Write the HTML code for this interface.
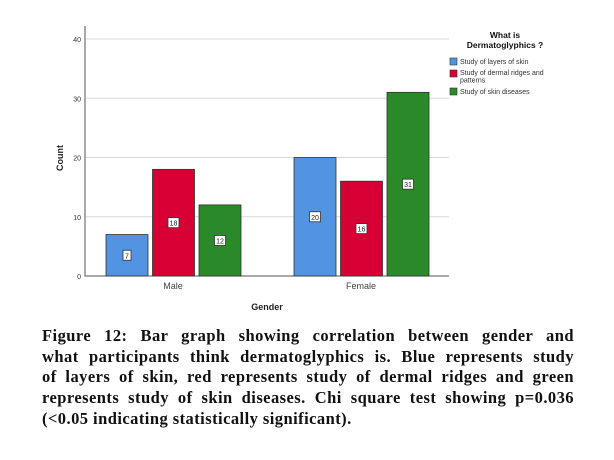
<!DOCTYPE html>
<html><head><meta charset="utf-8"><style>
body{margin:0;width:614px;height:460px;background:#fff;overflow:hidden;position:relative}
svg{position:absolute;left:0;top:0}
#cap{position:absolute;left:42px;top:326px;width:532px;font-family:"Liberation Serif",serif;font-weight:bold;font-size:16.5px;letter-spacing:0.45px;line-height:20.7px;color:#111}
#cap div{text-align:justify;text-align-last:justify;white-space:nowrap}
#cap div.last{text-align-last:left}
</style></head><body>
<svg id="chart" width="614" height="330"></svg>
<div id="cap">
<div>Figure 12: Bar graph showing correlation between gender and</div>
<div>what participants think dermatoglyphics is. Blue represents study</div>
<div>of layers of skin, red represents study of dermal ridges and green</div>
<div>represents study of skin diseases. Chi square test showing p=0.036</div>
<div class="last">(&lt;0.05 indicating statistically significant).</div>
</div>
<script>
const categories=["Male","Female"];
const seriesNames=["Study of layers of skin","Study of dermal ridges and patterns","Study of skin diseases"];
const layers=[7,20];
const ridges=[18,16];
const diseases=[12,31];
const yTicks=[0,10,20,30,40];
const colors=["#5294e2","#d70034","#2a8a2a"];
const NS="http://www.w3.org/2000/svg";
const svg=document.getElementById("chart");
const x0=85,x1=449,yb=276,yt=39;
const y=v=>yb-(v/40)*(yb-yt);
const catX=i=>173+i*188;
function el(t,a,txt){const e=document.createElementNS(NS,t);for(const k in a)e.setAttribute(k,a[k]);if(txt!==undefined)e.textContent=txt;svg.appendChild(e);return e;}
yTicks.forEach(t=>{
 if(t>0){const g=el("line",{x1:x0,x2:x1,y1:y(t),y2:y(t),stroke:"#d9d9d9","stroke-width":1});
 
 }
 const l=el("text",{x:x0-4,y:y(t)+3,"font-size":"7","font-family":"Liberation Sans,sans-serif","text-anchor":"end",fill:"#333"},t);
 
 
});
const ax=el("path",{d:`M${x0},${yt-13}V${yb}H${x1}`,stroke:"#555",fill:"none","stroke-width":1});


const series=[layers,ridges,diseases];
const bw=42,step=46.5;
series.forEach((s,si)=>{
 s.forEach((v,ci)=>{
  const bx=catX(ci)-67+si*step;
  const r=el("rect",{x:bx,y:y(v),width:bw,height:yb-y(v),fill:colors[si],stroke:"#333","stroke-width":0.8});
  
  
  const my=y(v/2);
  const w=String(v).length>1?11:8;
  const b=el("rect",{x:bx+bw/2-w/2,y:my-5,width:w,height:10,fill:"#fff",stroke:"#333","stroke-width":0.8});
  
  
  const t=el("text",{x:bx+bw/2,y:my+3,"font-size":"7","font-family":"Liberation Sans,sans-serif","text-anchor":"middle",fill:"#222"},v);
  
  
 });
});
categories.forEach((c,i)=>{
 const t=el("text",{x:catX(i),y:289,"font-size":"9","font-family":"Liberation Sans,sans-serif","text-anchor":"middle",fill:"#444"},c);
 
 
});
const xt=el("text",{x:267,y:310,"font-size":"9","font-weight":"bold","font-family":"Liberation Sans,sans-serif","text-anchor":"middle",fill:"#222"},"Gender");


const yl=el("text",{x:0,y:0,"font-size":"9","font-weight":"bold","font-family":"Liberation Sans,sans-serif","text-anchor":"middle",fill:"#222",transform:"translate(63,158) rotate(-90)"},"Count");


const lt1=el("text",{x:505,y:38,"font-size":"8.5","font-weight":"bold","font-family":"Liberation Sans,sans-serif","text-anchor":"middle",fill:"#111"},"What is");


const lt2=el("text",{x:505,y:48,"font-size":"8.5","font-weight":"bold","font-family":"Liberation Sans,sans-serif","text-anchor":"middle",fill:"#111"},"Dermatoglyphics ?");


const ly=[58,70,88];
const ltxt=[["Study of layers of skin"],["Study of dermal ridges and","patterns"],["Study of skin diseases"]];
ltxt.forEach((lines,i)=>{
 const s=el("rect",{x:450,y:ly[i],width:7,height:7,fill:colors[i],stroke:"#333","stroke-width":0.6});
 
 
 lines.forEach((ln,j)=>{
  const t=el("text",{x:460,y:ly[i]+6+j*7.5-(lines.length>1?1:0),"font-size":"7","font-family":"Liberation Sans,sans-serif",fill:"#333"},ln);
  
  
 });
});
</script>
</body></html>
